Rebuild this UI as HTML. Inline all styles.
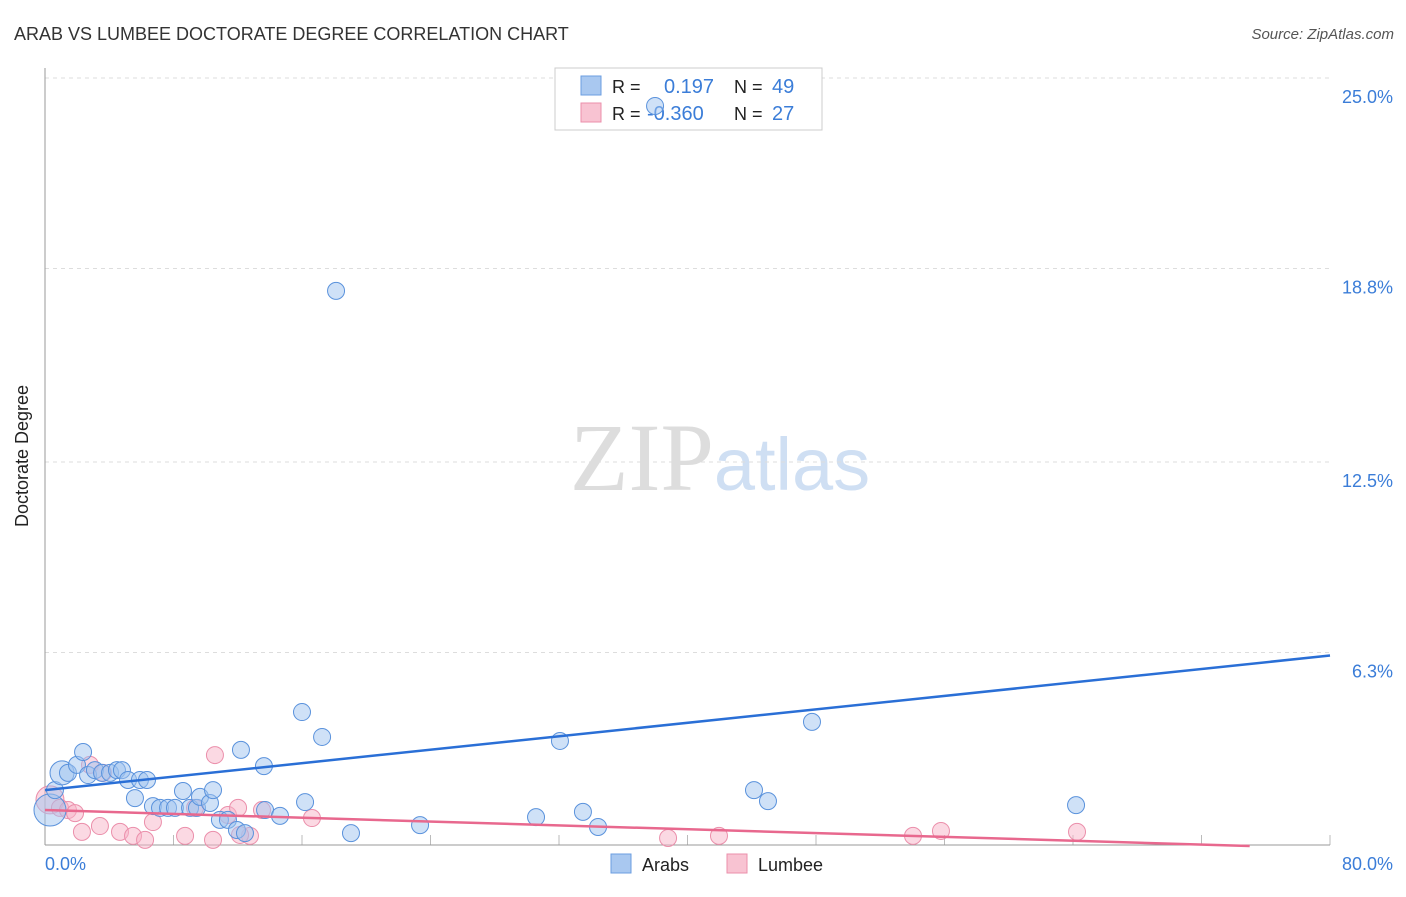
<!DOCTYPE html>
<html><head><meta charset="utf-8"><style>
body{margin:0;background:#fff;font-family:"Liberation Sans",sans-serif;}
</style></head><body>
<svg width="1406" height="892" xmlns="http://www.w3.org/2000/svg">
<text x="14" y="40" font-size="18" fill="#333">ARAB VS LUMBEE DOCTORATE DEGREE CORRELATION CHART</text>
<text x="1394" y="39" font-size="15" fill="#555" font-style="italic" text-anchor="end">Source: ZipAtlas.com</text>
<text x="720" y="490" font-size="96" fill="#ddd" text-anchor="middle" font-family="Liberation Serif,serif">ZIP<tspan fill="#cfdff3" font-family="Liberation Sans,sans-serif" font-size="74">atlas</tspan></text>
<g id="grid"></g>
<line x1="45" y1="68" x2="45" y2="845" stroke="#999"/>
<line x1="45" y1="845" x2="1330" y2="845" stroke="#999"/>
<text x="28" y="456" font-size="18" fill="#222" text-anchor="middle" transform="rotate(-90 28 456)">Doctorate Degree</text>
<text x="45" y="870" font-size="18" fill="#3b7dd8">0.0%</text>
<text x="1393" y="870" font-size="18" fill="#3b7dd8" text-anchor="end">80.0%</text>
<g>
<rect x="555" y="68" width="267" height="62" fill="#fff" stroke="#ccc"/>
<rect x="581" y="76" width="20" height="19" fill="#a9c8f0" stroke="#6b9ee0"/>
<rect x="581" y="103" width="20" height="19" fill="#f8c3d2" stroke="#eb8fab"/>
<text x="612" y="93" font-size="18" fill="#222">R = </text><text x="664" y="93" font-size="20" fill="#3b7dd8">0.197</text>
<text x="734" y="93" font-size="18" fill="#222">N = </text><text x="772" y="93" font-size="20" fill="#3b7dd8">49</text>
<text x="612" y="120" font-size="18" fill="#222">R = </text><text x="647" y="120" font-size="20" fill="#3b7dd8">-0.360</text>
<text x="734" y="120" font-size="18" fill="#222">N = </text><text x="772" y="120" font-size="20" fill="#3b7dd8">27</text>
</g>
<g id="pts"></g>
<g>
<rect x="611" y="854" width="20" height="19" fill="#a9c8f0" stroke="#6b9ee0"/>
<text x="642" y="871" font-size="18" fill="#222">Arabs</text>
<rect x="727" y="854" width="20" height="19" fill="#f8c3d2" stroke="#eb8fab"/>
<text x="758" y="871" font-size="18" fill="#222">Lumbee</text>
</g>
</svg>
<script>
const yTicks=[25.0,18.8,12.5,6.3];
const yTickLabels=["25.0%","18.8%","12.5%","6.3%"];
const xTicks=[8,16,24,32,40,48,56,64,72,80];
const arabX=[0.31,0.62,1.06,1.43,1.99,2.37,2.68,3.11,3.55,4.05,4.48,4.79,5.17,5.60,5.91,6.35,6.72,7.16,7.66,8.09,8.59,9.03,9.46,9.65,10.27,10.46,10.89,11.39,11.95,12.20,12.45,13.63,13.70,14.63,16.0,16.19,17.25,18.12,19.05,23.35,30.57,32.06,33.49,34.43,44.14,45.01,47.75,64.19,37.98];
const arabY=[1.17,1.82,2.38,2.38,2.64,3.06,2.31,2.47,2.38,2.38,2.47,2.47,2.15,1.56,2.15,2.15,1.30,1.24,1.24,1.24,1.79,1.24,1.24,1.60,1.40,1.82,0.85,0.85,0.52,3.13,0.42,2.60,1.17,0.98,4.36,1.43,3.55,18.07,0.42,0.68,0.94,3.42,1.11,0.62,1.82,1.46,4.04,1.33,24.09];
const lumX=[0.31,0.93,1.43,1.87,2.30,2.80,3.42,3.61,4.67,5.48,6.23,6.72,8.72,9.34,10.46,10.58,11.39,12.02,12.76,13.51,16.62,38.79,41.96,54.04,55.78,64.25,12.14];
const lumY=[1.50,1.24,1.17,1.07,0.46,2.64,0.65,2.38,0.46,0.33,0.20,0.78,0.33,1.24,0.20,2.96,1.01,1.24,0.33,1.17,0.91,0.26,0.33,0.33,0.49,0.46,0.36];
const arabTrend=[[0,1.82],[80,6.2]];
const lumTrend=[[0,1.17],[75,0.0]];
const NS="http://www.w3.org/2000/svg";
const X=v=>45+v/80*1285, Y=v=>846-v*30.72;
const grid=document.getElementById('grid'), pts=document.getElementById('pts');
function mk(tag,a,parent){const e=document.createElementNS(NS,tag);for(const k in a)e.setAttribute(k,a[k]);parent.appendChild(e);return e;}
yTicks.forEach((t,i)=>{
 const l=mk('line',{x1:45,x2:1330,y1:Y(t),y2:Y(t),stroke:'#ddd','stroke-dasharray':'4,4'},grid);
 
 
 const tx=mk('text',{x:1393,y:Y(t)+25,'font-size':18,fill:'#3b7dd8','text-anchor':'end'},grid);
 tx.textContent=yTickLabels[i];
 
 
});
xTicks.forEach(t=>{
 const l=mk('line',{x1:X(t),x2:X(t),y1:835,y2:845,stroke:'#bbb'},grid);
 
 
});
lumX.forEach((x,i)=>{
 const c=mk('circle',{cx:X(x),cy:Y(lumY[i]),r:i==0?14:8.5,fill:'rgba(248,180,200,0.5)',stroke:'#eb8fab','stroke-width':1},pts);
 
 
});
arabX.forEach((x,i)=>{
 const c=mk('circle',{cx:X(x),cy:Y(arabY[i]),r:i==0?16:(i==2?12:8.5),fill:'rgba(160,195,240,0.5)',stroke:'#5a92dc','stroke-width':1},pts);
 
 
});
const a=mk('line',{x1:X(arabTrend[0][0]),y1:Y(arabTrend[0][1]),x2:X(arabTrend[1][0]),y2:Y(arabTrend[1][1]),stroke:'#2a6fd6','stroke-width':2.5},pts);


const b=mk('line',{x1:X(lumTrend[0][0]),y1:Y(lumTrend[0][1]),x2:X(lumTrend[1][0]),y2:Y(lumTrend[1][1]),stroke:'#e8688e','stroke-width':2.5},pts);


</script>
</body></html>
